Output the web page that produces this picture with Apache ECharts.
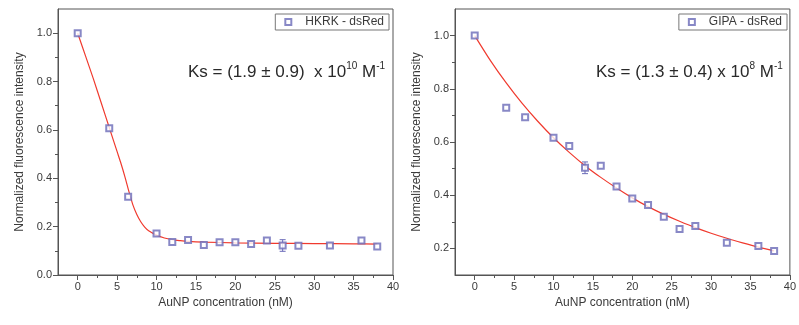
<!DOCTYPE html>
<html><head><meta charset="utf-8">
<script src="https://cdn.jsdelivr.net/npm/echarts@6/dist/echarts.min.js"></script>
<style>html,body{margin:0;padding:0;background:#fff}#c{width:799px;height:325px}</style>
</head><body><div id="c"></div>
<script>
// ---- data ----
const xA = [0, 4, 6.4, 10, 12, 14, 16, 18, 20, 22, 24, 26, 28, 32, 36, 38];
const yA = [1.0, 0.607, 0.324, 0.172, 0.136, 0.145, 0.124, 0.135, 0.135, 0.128, 0.143, 0.122, 0.121, 0.122, 0.143, 0.118];
const errA = [0, 0, 0, 0, 0, 0, 0, 0, 0, 0, 0, 0.024, 0, 0, 0, 0];
const fitAx = [0, 1, 2, 3, 4, 5, 5.5, 6, 6.5, 7, 7.5, 8, 8.5, 9, 10, 11, 12, 13, 14, 16, 20, 25, 30, 35, 38];
const fitAy = [1.0, 0.905, 0.81, 0.71, 0.61, 0.51, 0.46, 0.405, 0.345, 0.29, 0.25, 0.22, 0.198, 0.183, 0.165, 0.153, 0.146, 0.142, 0.139, 0.136, 0.133, 0.131, 0.13, 0.129, 0.128];

const xB = [0, 4, 6.4, 10, 12, 14, 16, 18, 20, 22, 24, 26, 28, 32, 36, 38];
const yB = [1.0, 0.729, 0.693, 0.616, 0.585, 0.503, 0.511, 0.433, 0.388, 0.363, 0.319, 0.273, 0.284, 0.221, 0.209, 0.19];
const errB = [0, 0, 0, 0, 0, 0.022, 0, 0, 0, 0, 0, 0, 0, 0, 0, 0];
const fitBx = [0, 2, 4, 6, 8, 10, 12, 14, 16, 18, 20, 22, 24, 26, 28, 30, 32, 34, 36, 38];
const fitBy = [1.0, 0.906, 0.822, 0.746, 0.678, 0.616, 0.561, 0.511, 0.467, 0.427, 0.390, 0.357, 0.328, 0.302, 0.278, 0.257, 0.238, 0.221, 0.205, 0.191];

const xTickLabels = [0, 5, 10, 15, 20, 25, 30, 35, 40];
const xMinorTicks = [2.5, 7.5, 12.5, 17.5, 22.5, 27.5, 32.5, 37.5];
const yTickLabelsA = [0.0, 0.2, 0.4, 0.6, 0.8, 1.0];
const yMinorTicksA = [0.1, 0.3, 0.5, 0.7, 0.9];
const yTickLabelsB = [0.2, 0.4, 0.6, 0.8, 1.0];
const yMinorTicksB = [0.3, 0.5, 0.7, 0.9];
const nameA = 'HKRK - dsRed';
const nameB = 'GIPA - dsRed';

// ---- chart ----
const axisCol = '#555';
const txtCol = '#3a3a3a';
const font = 'Liberation Sans, Arial, sans-serif';
const markCol = '#6a6ab8';
const lineCol = '#f03a2e';

function pairs(xs, ys) { return xs.map((x, i) => [x, ys[i]]); }
function errData(xs, ys, es) { return xs.map((x, i) => [x, ys[i], es[i]]).filter(d => d[2] > 0); }

function xAxes(gi) {
  return [{
    type: 'value', gridIndex: gi, min: -2.5, max: 40,
    name: 'AuNP concentration (nM)', nameLocation: 'middle', nameGap: 22,
    nameTextStyle: { fontSize: 12, color: txtCol, fontFamily: font },
    axisLine: { show: true, onZero: false, lineStyle: { color: axisCol, width: 1 } },
    axisTick: { show: true, length: 5, customValues: xTickLabels, lineStyle: { color: axisCol } },
    axisLabel: { customValues: xTickLabels, fontSize: 11, color: txtCol, fontFamily: font, margin: 6 },
    splitLine: { show: false }
  }, {
    type: 'value', gridIndex: gi, min: -2.5, max: 40, position: 'bottom',
    axisLine: { show: false, onZero: false },
    axisTick: { show: true, length: 3, customValues: xMinorTicks, lineStyle: { color: axisCol } },
    axisLabel: { show: false }, splitLine: { show: false }
  }];
}
function yAxes(gi, min, labels, minors) {
  return [{
    type: 'value', gridIndex: gi, min: min, max: 1.1,
    name: 'Normalized fluorescence intensity', nameLocation: 'middle', nameGap: 32,
    nameTextStyle: { fontSize: 12, color: txtCol, fontFamily: font },
    axisLine: { show: true, onZero: false, lineStyle: { color: axisCol, width: 1 } },
    axisTick: { show: true, length: 5, customValues: labels, lineStyle: { color: axisCol } },
    axisLabel: { customValues: labels, fontSize: 11, color: txtCol, fontFamily: font, margin: 6,
      formatter: v => v.toFixed(1) },
    splitLine: { show: false }
  }, {
    type: 'value', gridIndex: gi, min: min, max: 1.1, position: 'left',
    axisLine: { show: false, onZero: false },
    axisTick: { show: true, length: 3, customValues: minors, lineStyle: { color: axisCol } },
    axisLabel: { show: false }, splitLine: { show: false }
  }];
}

function errSeries(xi, yi, data) {
  return {
    type: 'custom', xAxisIndex: xi, yAxisIndex: yi, data: data, z: 3,
    renderItem: function (params, api) {
      const x = api.value(0), y = api.value(1), e = api.value(2);
      const top = api.coord([x, y + e]);
      const bot = api.coord([x, y - e]);
      const w = 3;
      const st = { stroke: markCol, lineWidth: 1 };
      return { type: 'group', children: [
        { type: 'line', shape: { x1: top[0], y1: top[1], x2: bot[0], y2: bot[1] }, style: st },
        { type: 'line', shape: { x1: top[0] - w, y1: top[1], x2: top[0] + w, y2: top[1] }, style: st },
        { type: 'line', shape: { x1: bot[0] - w, y1: bot[1], x2: bot[0] + w, y2: bot[1] }, style: st }
      ]};
    }
  };
}

const richKs = {
  a: { fontSize: 17, color: '#2a2a2a', fontFamily: font, fontWeight: 'normal', lineHeight: 22 },
  s: { fontSize: 10, color: '#2a2a2a', fontFamily: font, fontWeight: 'normal', verticalAlign: 'top', lineHeight: 22 }
};

const legendBase = {
  orient: 'vertical', borderColor: '#777', borderWidth: 1, borderRadius: 0,
  padding: [2, 5, 2, 9], itemWidth: 6, itemHeight: 6, itemGap: 4,
  textStyle: { fontSize: 12, color: txtCol, fontFamily: font, padding: [0, 0, 0, 9] }
};

const chart = echarts.init(document.getElementById('c'), null, { renderer: 'canvas' });
chart.setOption({
  animation: false,
  backgroundColor: '#fff',
  grid: [
    { left: 58, right: 406, top: 9, bottom: 50, show: true, borderColor: axisCol, borderWidth: 1, backgroundColor: 'transparent' },
    { left: 455, right: 6, top: 9, bottom: 50, show: true, borderColor: axisCol, borderWidth: 1, backgroundColor: 'transparent' }
  ],
  xAxis: [...xAxes(0), ...xAxes(1)],
  yAxis: [...yAxes(0, 0, yTickLabelsA, yMinorTicksA), ...yAxes(1, 0.1, yTickLabelsB, yMinorTicksB)],
  legend: [
    Object.assign({ data: [nameA], right: 410, top: 14 }, legendBase),
    Object.assign({ data: [nameB], right: 12, top: 14 }, legendBase)
  ],
  title: [
    { text: '{a|Ks = (1.9 ± 0.9)  x 10}{s|10}{a| M}{s|-1}', left: 183, top: 56, textStyle: { fontWeight: 'normal', rich: richKs } },
    { text: '{a|Ks = (1.3 ± 0.4) x 10}{s|8}{a| M}{s|-1}', left: 591, top: 56, textStyle: { fontWeight: 'normal', rich: richKs } }
  ],
  series: [
    { type: 'line', name: 'fitA', xAxisIndex: 0, yAxisIndex: 0, data: pairs(fitAx, fitAy), smooth: 0.3,
      showSymbol: false, lineStyle: { color: lineCol, width: 1.2 }, z: 2 },
    errSeries(0, 0, errData(xA, yA, errA)),
    { type: 'scatter', name: nameA, xAxisIndex: 0, yAxisIndex: 0, data: pairs(xA, yA), symbol: 'emptyRect',
      symbolSize: 6, itemStyle: { color: markCol, borderColor: markCol, borderWidth: 1 }, z: 4 },
    { type: 'line', name: 'fitB', xAxisIndex: 2, yAxisIndex: 2, data: pairs(fitBx, fitBy), smooth: 0.3,
      showSymbol: false, lineStyle: { color: lineCol, width: 1.2 }, z: 2 },
    errSeries(2, 2, errData(xB, yB, errB)),
    { type: 'scatter', name: nameB, xAxisIndex: 2, yAxisIndex: 2, data: pairs(xB, yB), symbol: 'emptyRect',
      symbolSize: 6, itemStyle: { color: markCol, borderColor: markCol, borderWidth: 1 }, z: 4 }
  ]
});
</script></body></html>
